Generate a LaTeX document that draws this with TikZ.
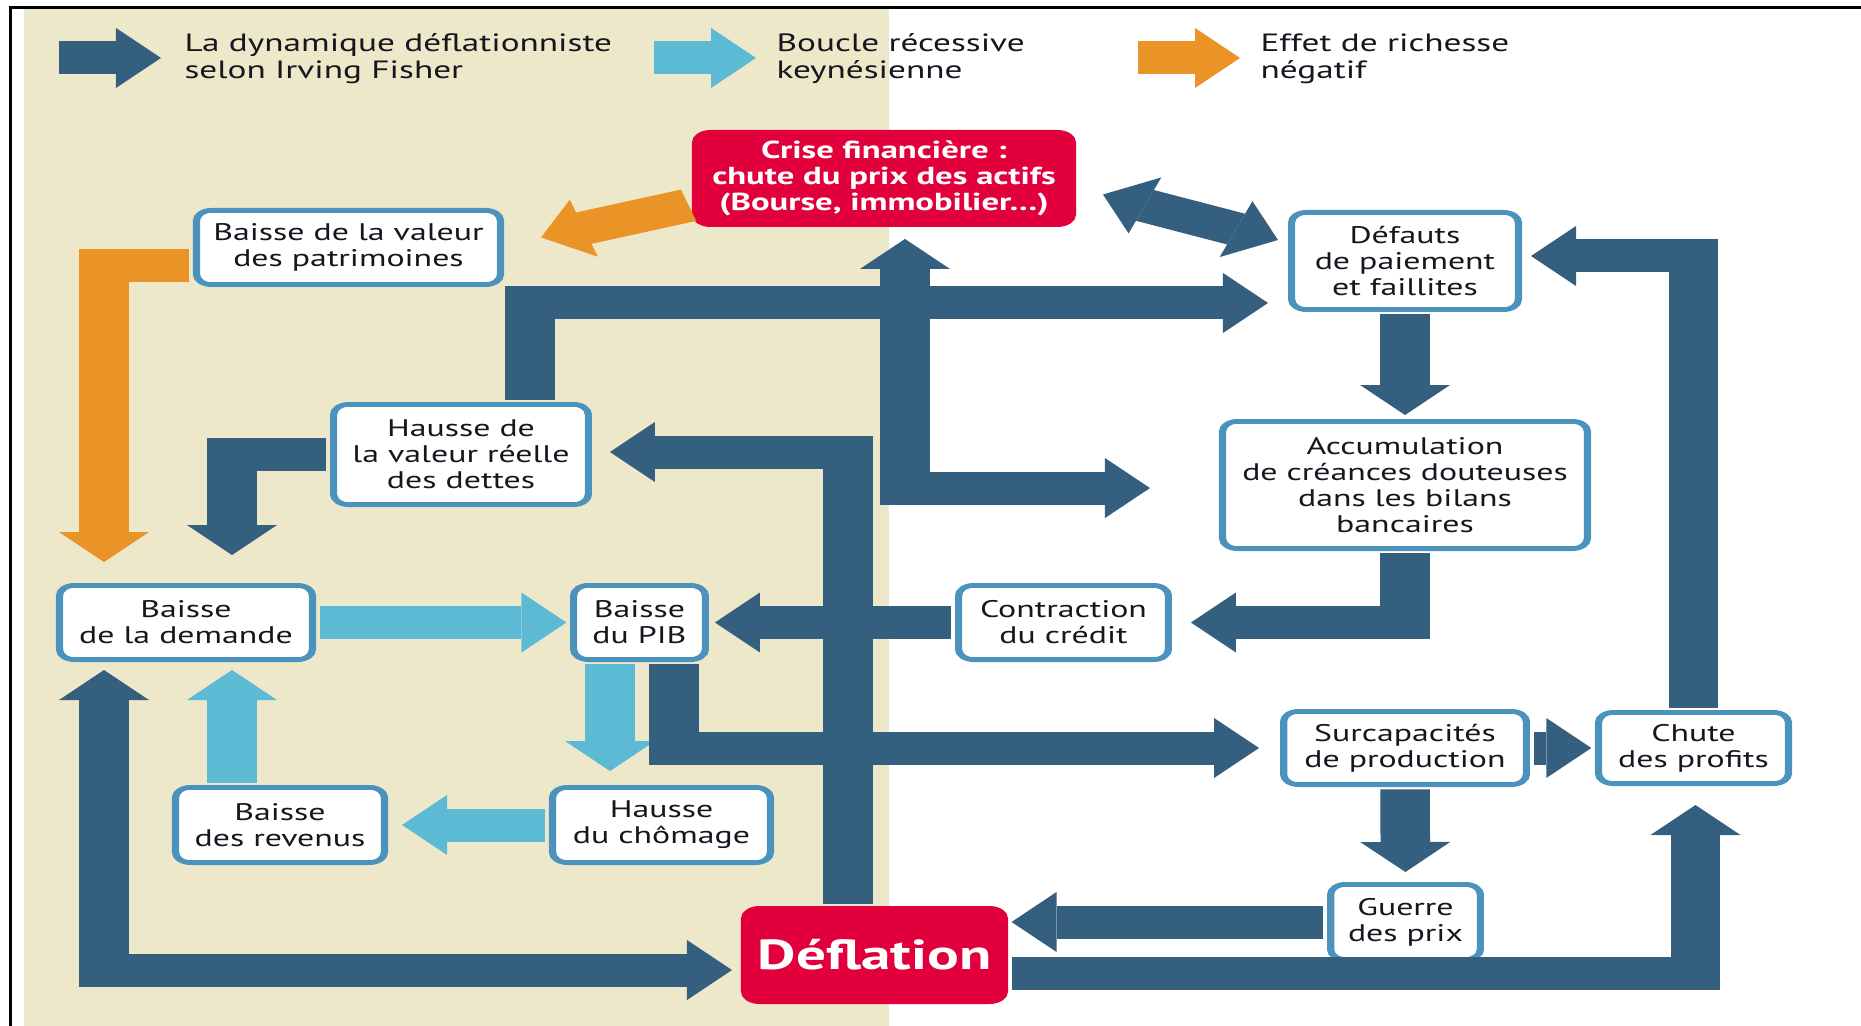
\documentclass[tikz,border=0pt]{standalone}
\usepackage{fontspec}
\setmainfont{PT Sans}[FakeStretch=0.94]
\usetikzlibrary{arrows.meta}

\definecolor{fisher}{HTML}{355F7E}
\definecolor{keynes}{HTML}{5DBAD5}
\definecolor{richesse}{HTML}{EA9427}
\definecolor{alerte}{HTML}{E1003C}
\definecolor{cadre}{HTML}{4B93BD}
\definecolor{sable}{HTML}{EEE8CB}
\definecolor{encre}{HTML}{16161F}

\tikzset{
  flux/.style={line width=16.5pt, line join=miter,
    >={Triangle[length=15pt,width=30pt,line width=0pt]}},
  sens/.style={flux, ->, shorten <=1.2pt},
  deuxsens/.style={flux, <->},
  etape/.style={draw=cadre, line width=2.4pt, fill=white, rounded corners=5pt,
    inner sep=0pt, align=center, text=encre,
    font=\fontsize{12}{13}\selectfont},
  choc/.style={draw=alerte, fill=alerte, line width=2.4pt, rounded corners=5pt,
    inner sep=0pt, align=center, text=white},
  legende/.style={anchor=west, align=left, inner sep=0pt, text=encre,
    font=\fontsize{12.5}{13.5}\selectfont},
}

\begin{document}
\begin{tikzpicture}[x=0.5pt,y=-0.5pt]
\useasboundingbox (0,0) rectangle (1861,1026);
\fill[white] (0,0) rectangle (1861,1026);
\fill[sable] (24,9) rectangle (889,1026);
\draw[line width=1.1pt] (9,7.5) -- (1861,7.5);
\draw[line width=1.6pt] (10.5,7.5) -- (10.5,1026);

% everything below is drawn on a canvas stretched 1.5 times horizontally
\begin{scope}[x=0.333333pt, y=-0.5pt, transform canvas={xscale=1.5}]

% legend
\coordinate (lga1) at (55,58);  \coordinate (lgb1) at (161,58);
\coordinate (lga2) at (650,58); \coordinate (lgb2) at (756,58);
\coordinate (lga3) at (1134,58); \coordinate (lgb3) at (1240,58);
\draw[sens, fisher] (lga1) -- (lgb1);
\draw[sens, keynes] (lga2) -- (lgb2);
\draw[sens, richesse] (lga3) -- (lgb3);
\node[legende] (lg1) at (184,59) {La dynamique déflationniste\\selon Irving Fisher};
\node[legende] (lg2) at (776,59) {Boucle récessive\\keynésienne};
\node[legende] (lg3) at (1260,59) {Effet de richesse\\négatif};

% steps
\node[choc, minimum width=125.6pt, minimum height=46.1pt,
      font=\fontsize{12.3}{13}\selectfont\bfseries] (crise) at (884,178.5)
  {Crise financière :\\chute du prix des actifs\\(Bourse, immobilier…)};
\node[etape, minimum width=101.3pt, minimum height=37.1pt] (patrim) at (348.5,247.5)
  {Baisse de la valeur\\des patrimoines};
\node[etape, minimum width=75.6pt, minimum height=48.6pt] (defauts) at (1405,261)
  {Défauts\\de paiement\\et faillites};
\node[etape, minimum width=84.9pt, minimum height=50.1pt] (hausse) at (461,454.5)
  {Hausse de\\la valeur réelle\\des dettes};
\node[etape, minimum width=121.6pt, minimum height=63.6pt] (accum) at (1405,485)
  {Accumulation\\de créances douteuses\\dans les bilans\\bancaires};
\node[etape, minimum width=84.3pt, minimum height=37.1pt] (demande) at (186,622.5)
  {Baisse\\de la demande};
\node[etape, minimum width=43.9pt, minimum height=37.1pt] (pib) at (639.5,622.5)
  {Baisse\\du PIB};
\node[etape, minimum width=69.9pt, minimum height=37.1pt] (credit) at (1063.5,622.5)
  {Contraction\\du crédit};
\node[etape, minimum width=80.9pt, minimum height=36.6pt] (surcap) at (1405,748)
  {Surcapacités\\de production};
\node[etape, minimum width=63.3pt, minimum height=35.6pt] (profits) at (1693.5,748)
  {Chute\\des profits};
\node[etape, minimum width=69.6pt, minimum height=37.6pt] (revenus) at (280,825)
  {Baisse\\des revenus};
\node[etape, minimum width=72.6pt, minimum height=37.6pt] (chomage) at (661.5,825)
  {Hausse\\du chômage};
\node[etape, minimum width=49.9pt, minimum height=37.6pt] (guerre) at (1405.5,922)
  {Guerre\\des prix};
\node[choc, minimum width=86.6pt, minimum height=46.6pt,
      font=\fontsize{21}{23}\selectfont\bfseries] (deflation) at (874.5,955)
  {Déflation};

% negative wealth effect
\draw[sens, richesse] ([shift={(0,26)}]crise.west) -- ([shift={(37,-10)}]patrim.east);
\draw[sens, richesse] ([shift={(0,18)}]patrim.west) -| ([shift={(-82,-21)}]demande.north);

% Keynesian recessive loop
\draw[sens, keynes, shorten >=1.2pt] (demande.east) -- (pib.west);
\draw[sens, keynes] ([shift={(-29.5,0)}]pib.south) -- ([shift={(-51.5,-14)}]chomage.north);
\draw[sens, keynes, shorten >=4.7pt] (chomage.west) -- (revenus.east);
\draw[sens, keynes] ([shift={(-48,0)}]revenus.north) -- ([shift={(46,8)}]demande.south);

% Fisher's debt-deflation dynamics
\draw[deuxsens, fisher] ([shift={(27,16)}]crise.east) -- ([shift={(-10,-21)}]defauts.west);
\draw[deuxsens, fisher] ([shift={(21,12)}]crise.south) |- ([shift={(-69,3)}]accum.west);
\draw[sens, fisher] ([shift={(69,0)}]hausse.north) |- ([shift={(-20,42)}]defauts.west);
\draw[sens, fisher] ([shift={(-26.5,0)}]deflation.north) |- ([shift={(18,-2.5)}]hausse.east);
\draw[sens, fisher] (hausse.west) -| ([shift={(46,-28)}]demande.north);
\draw[sens, fisher, shorten >=2pt] (credit.west) -- (pib.east);
\draw[sens, fisher] (accum.south) |- ([shift={(19,0)}]credit.east);
\draw[sens, fisher, shorten >=2pt] (defauts.south) -- (accum.north);
\draw[sens, fisher] (profits.north) |- ([shift={(9,-5)}]defauts.east);
\draw[sens, fisher] ([shift={(34.5,0)}]pib.south) |- ([shift={(-21,0)}]surcap.west);
\draw[deuxsens, fisher] ([shift={(-82,8)}]demande.south) |- ([shift={(-9,15)}]deflation.west);
\draw[sens, fisher] ([shift={(0,18)}]deflation.east) -| ([shift={(2,19)}]profits.south);
\draw[sens, fisher, shorten >=1.2pt] (guerre.west) -- (guerre.west -| deflation.east);
\draw[sens, fisher, shorten >=1.2pt] (surcap.east) -- (profits.west);
\draw[sens, fisher, shorten >=5pt] (surcap.south) -- (guerre.north);

\end{scope}
\end{tikzpicture}
\end{document}
